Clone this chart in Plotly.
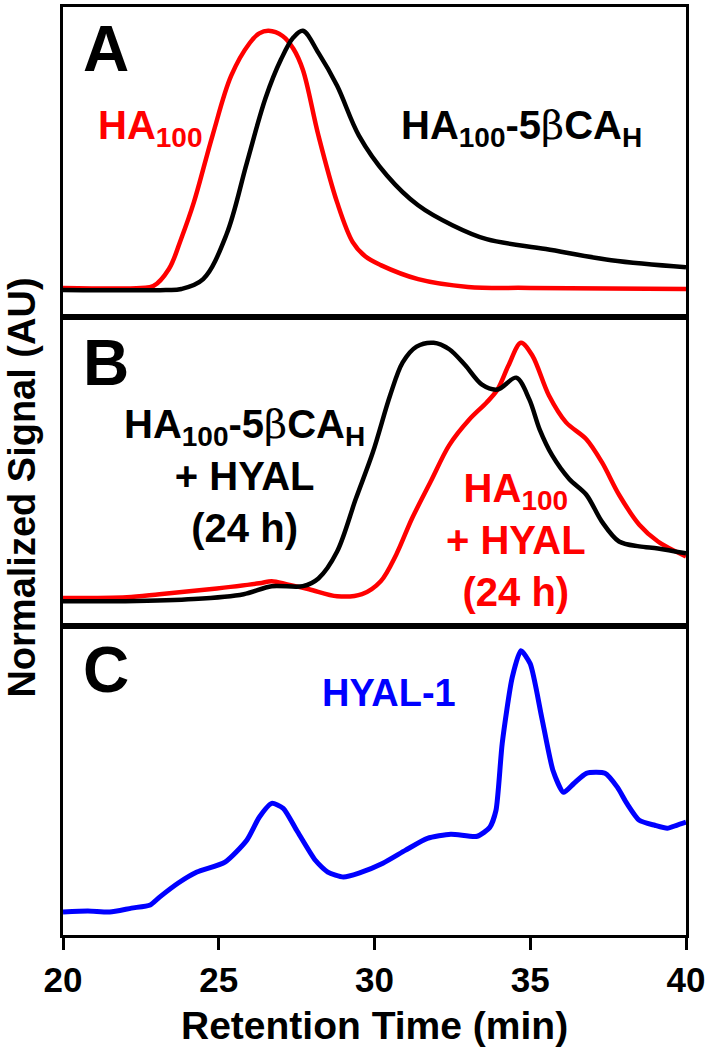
import plotly.graph_objects as go

# panel A: HA100 vs HA100-5bCAH (normalized signal)
a_red_t = [20, 22.5, 22.9, 23.4, 23.8, 24.2, 24.8, 25.4, 26.0, 26.3, 26.6, 27.05, 27.4, 27.7, 28.2, 28.8, 29.3, 29.7, 30.2, 31.4, 33.0, 35, 40]
a_red_v = [0.008, 0.008, 0.015, 0.081, 0.2, 0.338, 0.596, 0.827, 0.954, 0.99, 1.0, 0.98, 0.93, 0.85, 0.596, 0.338, 0.185, 0.13, 0.096, 0.042, 0.012, 0.008, 0.004]
a_blk_t = [20, 23.3, 23.8, 24.5, 25.25, 25.9, 26.5, 27.0, 27.4, 27.7, 28.2, 28.8, 29.5, 30.4, 31.4, 32.5, 33.6, 35.5, 37.6, 40]
a_blk_v = [0, 0, 0.004, 0.042, 0.215, 0.49, 0.74, 0.89, 0.975, 1.0, 0.915, 0.788, 0.596, 0.442, 0.327, 0.25, 0.196, 0.158, 0.115, 0.088]

# panel B: after HYAL digestion (24 h)
b_red_t = [20, 22.05, 23.1, 24.7, 26.3, 26.7, 27.2, 27.9, 28.8, 29.6, 30.2, 30.7, 31.2, 31.8, 32.4, 33.05, 33.6, 33.95, 34.3, 34.7, 35.07, 35.6, 36.15, 36.8, 37.3, 37.85, 38.5, 39.1, 40]
b_red_v = [0.012, 0.015, 0.027, 0.046, 0.069, 0.077, 0.065, 0.046, 0.019, 0.027, 0.077, 0.181, 0.319, 0.462, 0.604, 0.704, 0.769, 0.819, 0.912, 1.0, 0.95, 0.796, 0.692, 0.627, 0.538, 0.412, 0.296, 0.231, 0.173]
b_blk_t = [20, 22, 24.2, 25.8, 26.7, 27.7, 28.2, 28.8, 29.4, 29.95, 30.5, 30.9, 31.35, 31.9, 32.4, 32.9, 33.45, 33.95, 34.55, 34.97, 35.3, 35.7, 36.25, 36.8, 37.3, 37.85, 38.5, 39.1, 40]
b_blk_v = [0, 0, 0.008, 0.027, 0.058, 0.058, 0.088, 0.192, 0.396, 0.577, 0.796, 0.923, 0.985, 1.0, 0.975, 0.915, 0.838, 0.819, 0.865, 0.781, 0.665, 0.565, 0.473, 0.412, 0.308, 0.231, 0.212, 0.204, 0.185]

# panel C: HYAL-1 alone
c_t = [20, 20.8, 21.5, 22.2, 22.8, 23.1, 23.7, 24.3, 25.2, 25.9, 26.3, 26.7, 27.07, 27.5, 28.1, 28.5, 29.0, 29.5, 30.27, 31.0, 31.7, 32.45, 33.3, 33.7, 33.9, 34.1, 34.42, 34.7, 35.0, 35.37, 35.73, 36.07, 36.4, 36.8, 37.4, 37.8, 38.1, 38.5, 39.0, 39.4, 39.7, 40]
c_v = [0, 0.004, 0, 0.015, 0.027, 0.057, 0.111, 0.153, 0.191, 0.275, 0.363, 0.416, 0.397, 0.313, 0.198, 0.153, 0.134, 0.149, 0.187, 0.237, 0.282, 0.298, 0.29, 0.324, 0.389, 0.645, 0.897, 1.0, 0.95, 0.744, 0.542, 0.458, 0.492, 0.531, 0.531, 0.477, 0.416, 0.351, 0.332, 0.321, 0.332, 0.344]

x_ticks = [20, 25, 30, 35, 40]

RED = "#ff0000"
BLK = "#000000"
BLU = "#0000ff"
FONT = "Liberation Sans, Arial, sans-serif"

fig = go.Figure()
fig.add_trace(go.Scatter(x=a_red_t, y=a_red_v, mode="lines", line=dict(color=RED, width=4.5, shape="spline", smoothing=1.0), xaxis="x", yaxis="y"))
fig.add_trace(go.Scatter(x=a_blk_t, y=a_blk_v, mode="lines", line=dict(color=BLK, width=4.5, shape="spline", smoothing=1.0), xaxis="x", yaxis="y"))
fig.add_trace(go.Scatter(x=b_red_t, y=b_red_v, mode="lines", line=dict(color=RED, width=4.5, shape="spline", smoothing=0.9), xaxis="x2", yaxis="y2"))
fig.add_trace(go.Scatter(x=b_blk_t, y=b_blk_v, mode="lines", line=dict(color=BLK, width=4.5, shape="spline", smoothing=0.9), xaxis="x2", yaxis="y2"))
fig.add_trace(go.Scatter(x=c_t, y=c_v, mode="lines", line=dict(color=BLU, width=5, shape="spline", smoothing=0.6), xaxis="x3", yaxis="y3"))

box = dict(showline=True, linecolor="black", linewidth=3, mirror=True, showgrid=False, zeroline=False)
xr = [20, 40]
fig.update_layout(
    width=709, height=1050,
    margin=dict(l=63, r=21, t=4, b=115),
    paper_bgcolor="white", plot_bgcolor="white",
    showlegend=False,
    font=dict(family=FONT, color="black"),
    xaxis=dict(range=xr, domain=[0, 1], anchor="y", showticklabels=False, ticks="", **box),
    xaxis2=dict(range=xr, domain=[0, 1], anchor="y2", showticklabels=False, ticks="", matches="x", **box),
    xaxis3=dict(range=xr, domain=[0, 1], anchor="y3", matches="x", tickvals=x_ticks, ticks="outside",
                ticklen=12, tickwidth=3, tickcolor="black",
                tickfont=dict(size=35, family=FONT, weight="bold"), **box),
    yaxis=dict(range=[-0.104, 1.092], domain=[0.666, 1], showticklabels=False, ticks="", **box),
    yaxis2=dict(range=[-0.096, 1.1], domain=[0.333, 0.666], showticklabels=False, ticks="", **box),
    yaxis3=dict(range=[-0.088, 1.095], domain=[0, 0.333], showticklabels=False, ticks="", **box),
)

beta = '<span style="font-family:DejaVu Serif;font-weight:normal">β</span>'
conj = "HA<sub>100</sub>-5" + beta + "CA<sub>H</sub>"

ann = []
def label(text, x, y, ax, size, color="black", xanchor="center"):
    ann.append(dict(text="<b>" + text + "</b>", x=x, y=y, xref=ax[0], yref=ax[1], showarrow=False,
                    xanchor=xanchor, yanchor="middle", font=dict(size=size, color=color, family=FONT)))

label("A", 21.38, 0.93, ("x", "y"), 64)
label("B", 21.38, 0.92, ("x2", "y2"), 64)
label("C", 21.38, 0.925, ("x3", "y3"), 64)
label("HA<sub>100</sub>", 21.05, 0.627, ("x", "y"), 40, RED, "left")
label(conj, 30.8, 0.627, ("x", "y"), 40, BLK, "left")
label(conj + "<br>+ HYAL<br>(24 h)", 25.83, 0.487, ("x2", "y2"), 40, BLK)
label("HA<sub>100</sub><br>+ HYAL<br>(24 h)", 34.55, 0.235, ("x2", "y2"), 40, RED)
label("HYAL-1", 30.48, 0.84, ("x3", "y3"), 38, BLU)

ann.append(dict(text="<b>Retention Time (min)</b>", x=0.5, y=-0.097, xref="paper", yref="paper",
                showarrow=False, xanchor="center", yanchor="middle", font=dict(size=39, family=FONT)))
ann.append(dict(text="<b>Normalized Signal (AU)</b>", x=-0.066, y=0.482, xref="paper", yref="paper",
                textangle=-90, showarrow=False, xanchor="center", yanchor="middle", font=dict(size=38, family=FONT)))
fig.update_layout(annotations=ann)

# drop the default page margin so the 709x1050 figure fills the window exactly
fig.write_html("out.html", config={"displayModeBar": False},
               post_script="document.body.style.margin='0';")
